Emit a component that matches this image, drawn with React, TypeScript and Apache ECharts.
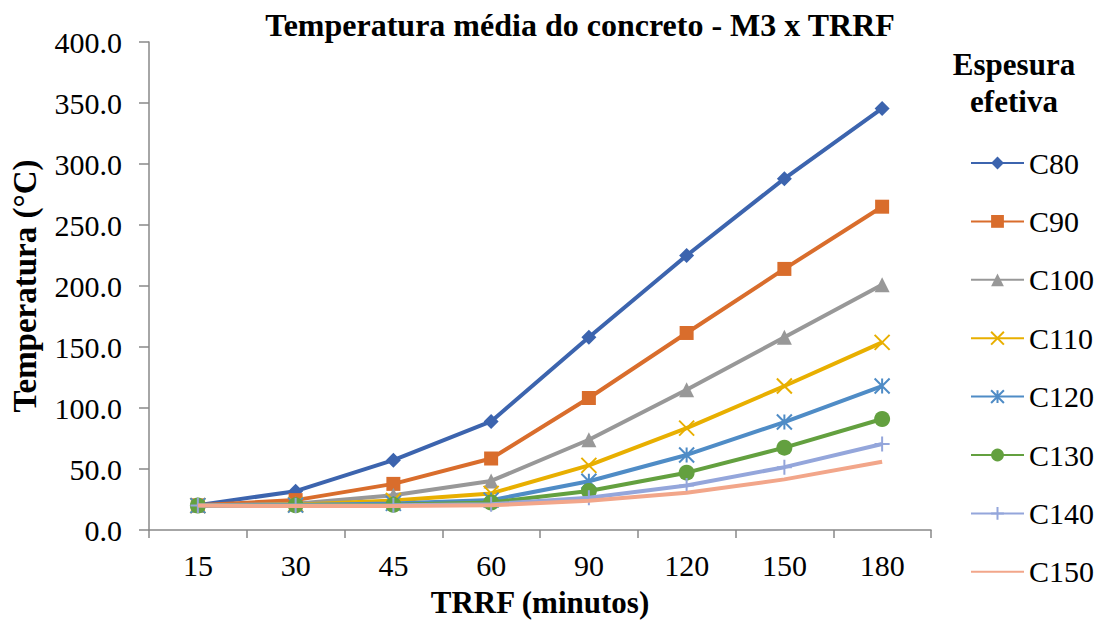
import React, { useEffect, useRef } from "react";
import * as echarts from "echarts";

const categories = ["15", "30", "45", "60", "90", "120", "150", "180"];
const seriesNames = ["C80", "C90", "C100", "C110", "C120", "C130", "C140", "C150"];
const c80 = [20.4, 31.8, 57.2, 89.0, 158.0, 225.0, 288.0, 345.5];
const c90 = [20.2, 24.5, 37.8, 58.6, 108.2, 161.5, 214.0, 265.0];
const c100 = [20.1, 21.5, 28.5, 40.2, 74.0, 115.0, 158.0, 201.0];
const c110 = [20.0, 20.8, 24.2, 30.0, 53.0, 83.5, 118.0, 153.8];
const c120 = [20.0, 20.4, 21.8, 24.5, 40.0, 61.5, 88.5, 118.0];
const c130 = [20.0, 20.2, 20.6, 22.5, 32.0, 47.0, 67.5, 91.0];
const c140 = [20.0, 20.0, 20.2, 21.2, 26.5, 36.5, 51.5, 70.5];
const c150 = [20.0, 19.6, 19.6, 20.2, 24.0, 30.5, 41.5, 56.0];
const yTicks = [0, 50, 100, 150, 200, 250, 300, 350, 400];
const legendTitleLines = ["Espesura", "efetiva"];

const seriesData = [c80, c90, c100, c110, c120, c130, c140, c150];
const colors = ["#3C64AE", "#D96D2C", "#989898", "#E8AF00", "#4F8CC6", "#63A03F", "#94A6DB", "#F2A68A"];
const symbols = [
  "diamond",
  "rect",
  "triangle",
  "path://M0,0L10,10M10,0L0,10",
  "path://M5,0L5,10M0,0L10,10M10,0L0,10",
  "circle",
  "path://M5,0L5,10M0,5L10,5",
  "none",
];
const symbolSizes = [15, 14, 15, 15, 15, 16, 15, 0];
const stroked = [false, false, false, true, true, false, true, false];

const FONT = "'Liberation Serif', 'Times New Roman', serif";

export default function App() {
  const ref = useRef<HTMLDivElement>(null);
  useEffect(() => {
    if (!ref.current) return;
    const chart = echarts.init(ref.current, undefined, { renderer: "svg" });
    chart.setOption({
      animation: false,
      backgroundColor: "#ffffff",
      textStyle: { fontFamily: FONT },
      title: {
        text: "Temperatura média do concreto - M3 x TRRF",
        left: 575,
        top: 4,
        textAlign: "center",
        textStyle: { fontFamily: FONT, fontSize: 32, fontWeight: "bold", color: "#000" },
      },
      graphic: legendTitleLines.map((t, i) => ({
        type: "text",
        x: 1014,
        y: 64.5 + i * 36.5,
        style: {
          text: t,
          fontFamily: FONT,
          fontSize: 31,
          fontWeight: "bold",
          fill: "#000",
          align: "center",
          verticalAlign: "middle",
        },
      })),
      legend: {
        orient: "vertical",
        left: 970,
        top: 147,
        padding: 0,
        itemWidth: 53,
        itemHeight: 16,
        itemGap: 26.4,
        textStyle: { fontFamily: FONT, fontSize: 30, color: "#000", lineHeight: 32 },
        data: seriesNames.map((n, i) =>
          i === 7 ? { name: n, itemStyle: { color: "rgba(0,0,0,0)", borderWidth: 0 } } : { name: n }
        ),
      },
      grid: { left: 147, right: 170, top: 42, bottom: 91 },
      xAxis: {
        type: "category",
        data: categories,
        boundaryGap: true,
        name: "TRRF (minutos)",
        nameLocation: "middle",
        nameGap: 57,
        nameTextStyle: { fontFamily: FONT, fontSize: 31, fontWeight: "bold", color: "#000" },
        axisLine: { lineStyle: { color: "#898989", width: 1.5 } },
        axisTick: { show: true, length: 8, lineStyle: { color: "#898989", width: 1.5 } },
        axisLabel: { fontFamily: FONT, fontSize: 30, color: "#000", margin: 20 },
        splitLine: { show: false },
      },
      yAxis: {
        type: "value",
        min: yTicks[0],
        max: yTicks[yTicks.length - 1],
        interval: 50,
        name: "Temperatura (°C)",
        nameLocation: "middle",
        nameGap: 108,
        nameRotate: 90,
        nameTextStyle: { fontFamily: FONT, fontSize: 33, fontWeight: "bold", color: "#000" },
        axisLine: { show: true, lineStyle: { color: "#898989", width: 1.5 } },
        axisTick: { show: true, length: 10, lineStyle: { color: "#898989", width: 1.5 } },
        axisLabel: {
          fontFamily: FONT,
          fontSize: 30,
          color: "#000",
          margin: 27,
          formatter: (v: number) => v.toFixed(1),
        },
        splitLine: { show: false },
      },
      series: seriesNames.map((name, i) => ({
        name,
        type: "line",
        data: seriesData[i],
        symbol: symbols[i],
        symbolSize: symbolSizes[i],
        showSymbol: symbols[i] !== "none",
        lineStyle: { color: colors[i], width: 4 },
        itemStyle: stroked[i]
          ? { color: colors[i], borderColor: colors[i], borderWidth: 2 }
          : { color: colors[i], borderWidth: 0 },
        emphasis: { disabled: true },
        z: 2 + i,
      })),
    });
    return () => chart.dispose();
  }, []);
  return <div ref={ref} style={{ width: 1101, height: 623, position: "absolute", left: 0, top: 0 }} />;
}
